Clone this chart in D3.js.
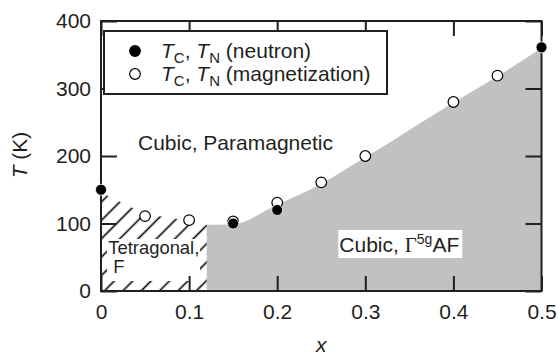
<!DOCTYPE html>
<html>
<head>
<meta charset="utf-8">
<script src="https://cdn.jsdelivr.net/npm/d3@7"></script>
<style>
  body { margin: 0; background: #fff; }
  text { font-family: "Liberation Sans", Arial, Helvetica, sans-serif; fill: #231f20; }
</style>
</head>
<body>
<svg id="chart" width="558" height="356"></svg>
<script>
// tick values
const xTicks = [0, 0.1, 0.2, 0.3, 0.4, 0.5];
const yTicks = [0, 100, 200, 300, 400];

// T_C, T_N from neutron diffraction (filled)
const neutronX = [0, 0.15, 0.2, 0.5];
const neutronT = [150, 100, 120, 361];

// T_C, T_N from magnetization (open)
const magX = [0.05, 0.1, 0.15, 0.2, 0.25, 0.3, 0.4, 0.45];
const magT = [111, 105, 103, 131, 161, 200, 280, 319];

// upper edge of the cubic AF phase (gray)
const afX = [0.12, 0.15, 0.2, 0.25, 0.3, 0.4, 0.45, 0.5];
const afT = [98, 99, 128, 159, 198, 279, 318, 360];

// upper edge of the tetragonal F phase (hatched)
const tetX = [0, 0.05, 0.1, 0.12];
const tetT = [146, 114, 104, 98];

const W = 558, H = 356;
const margin = {top: 21, right: 16.5, bottom: 65, left: 101};
const ink = "#231f20";
const fs = "21px";

const svg = d3.select("#chart");

const x = d3.scaleLinear().domain([0, 0.5]).range([margin.left, W - margin.right]);
const y = d3.scaleLinear().domain([0, 400]).range([H - margin.bottom, margin.top]);

// hatch pattern for the tetragonal region
const defs = svg.append("defs");
defs.append("pattern")
    .attr("id", "hatch")
    .attr("patternUnits", "userSpaceOnUse")
    .attr("width", 13).attr("height", 13)
    .attr("patternTransform", "rotate(45)")
  .append("line")
    .attr("x1", 6.5).attr("y1", 0).attr("x2", 6.5).attr("y2", 13)
    .attr("stroke", "#000").attr("stroke-width", 1.6);

// gray AF region
const afPts = afX.map((d, i) => [d, afT[i]]);
const afArea = d3.area()
    .x(d => x(d[0]))
    .y0(y(0))
    .y1(d => y(d[1]))
    .curve(d3.curveMonotoneX);
svg.append("path")
    .datum(afPts)
    .attr("d", afArea)
    .attr("fill", "#c1c1c1");

// hatched tetragonal region
const tetPts = tetX.map((d, i) => [d, tetT[i]]);
const tetArea = d3.area()
    .x(d => x(d[0]))
    .y0(y(0))
    .y1(d => y(d[1]));
svg.append("path")
    .datum(tetPts)
    .attr("d", tetArea)
    .attr("fill", "url(#hatch)");

// labels of the phases
const tetLabel = svg.append("g");
tetLabel.append("rect")
    .attr("x", x(0.0068)).attr("y", y(77))
    .attr("width", 93).attr("height", 42)
    .attr("fill", "#fff");
const tetText = tetLabel.append("text")
    .attr("x", x(0.0083)).attr("y", y(54.4))
    .style("font-size", "18.4px");
tetText.append("tspan").text("Tetragonal,");
tetText.append("tspan").attr("x", x(0.014)).attr("dy", 19).text("F");

svg.append("text")
    .attr("x", x(0.042)).attr("y", y(209))
    .style("font-size", fs)
    .text("Cubic, Paramagnetic");

const afLabel = svg.append("g");
afLabel.append("rect")
    .attr("x", x(0.2705) - 1).attr("y", y(90.4))
    .attr("width", 124).attr("height", 28)
    .attr("fill", "#fff");
const afText = afLabel.append("text")
    .attr("x", x(0.2705)).attr("y", y(58.5))
    .style("font-size", fs);
afText.append("tspan").text("Cubic, ");
afText.append("tspan").style("font-family", "'Liberation Serif', 'Times New Roman', serif").text("\u0393");
afText.append("tspan").attr("dy", -8).style("font-size", "14px").text("5g");
afText.append("tspan").attr("dy", 8).text("AF");

// frame
svg.append("rect")
    .attr("x", x(0)).attr("y", y(400))
    .attr("width", x(0.5) - x(0)).attr("height", y(0) - y(400))
    .attr("fill", "none").attr("stroke", ink).attr("stroke-width", 2);

// inward ticks on all four sides
const tl = 15;
const axB = svg.append("g").attr("transform", `translate(0,${y(0)})`)
    .call(d3.axisBottom(x).tickValues(xTicks).tickSize(-tl).tickPadding(13).tickFormat(d3.format("")));
const axT = svg.append("g").attr("transform", `translate(0,${y(400)})`)
    .call(d3.axisTop(x).tickValues(xTicks).tickSize(-tl).tickFormat(""));
const axL = svg.append("g").attr("transform", `translate(${x(0)},0)`)
    .call(d3.axisLeft(y).tickValues(yTicks).tickSize(-tl - 1).tickPadding(10).tickFormat(d3.format("d")));
const axR = svg.append("g").attr("transform", `translate(${x(0.5)},0)`)
    .call(d3.axisRight(y).tickValues(yTicks).tickSize(-tl - 1).tickFormat(""));
[axB, axT, axL, axR].forEach(a => {
  a.select(".domain").remove();
  a.selectAll(".tick line").attr("stroke", ink).attr("stroke-width", 2);
  a.selectAll(".tick text").attr("fill", ink)
      .style("font-size", fs)
      .style("font-family", "'Liberation Sans', Arial, sans-serif");
});

// axis titles
const yTitle = svg.append("text")
    .attr("transform", `translate(27,${(y(0) + y(400)) / 2 - 1}) rotate(-90)`)
    .attr("text-anchor", "middle")
    .style("font-size", fs);
yTitle.append("tspan").style("font-style", "italic").text("T");
yTitle.append("tspan").text(" (K)");

svg.append("text")
    .attr("x", (x(0) + x(0.5)) / 2).attr("y", 352)
    .attr("text-anchor", "middle")
    .style("font-size", fs).style("font-style", "italic")
    .text("x");

// legend
const lg = svg.append("g");
lg.append("rect")
    .attr("x", 104).attr("y", 31)
    .attr("width", 283).attr("height", 63)
    .attr("fill", "#fff").attr("stroke", ink).attr("stroke-width", 2);

function legendRow(yc, filled, label) {
  lg.append("circle")
      .attr("cx", 135).attr("cy", yc).attr("r", 5.3)
      .attr("fill", filled ? "#000" : "#fff")
      .attr("stroke", "#000").attr("stroke-width", 1.2);
  const t = lg.append("text").attr("x", 161).attr("y", yc + 7).style("font-size", fs);
  t.append("tspan").style("font-style", "italic").text("T");
  t.append("tspan").attr("dy", 5).style("font-size", "15px").text("C");
  t.append("tspan").attr("dy", -5).text(", ");
  t.append("tspan").style("font-style", "italic").text("T");
  t.append("tspan").attr("dy", 5).style("font-size", "15px").text("N");
  t.append("tspan").attr("dy", -5).text(" " + label);
}
legendRow(51, true, "(neutron)");
legendRow(74, false, "(magnetization)");

// data points: open first, filled on top
svg.append("g").selectAll("circle")
  .data(magX.map((d, i) => [d, magT[i]]))
  .join("circle")
    .attr("cx", d => x(d[0])).attr("cy", d => y(d[1]))
    .attr("r", 5.3)
    .attr("fill", "#fff").attr("stroke", "#000").attr("stroke-width", 1.2);

svg.append("g").selectAll("circle")
  .data(neutronX.map((d, i) => [d, neutronT[i]]))
  .join("circle")
    .attr("cx", d => x(d[0])).attr("cy", d => y(d[1]))
    .attr("r", 5.5)
    .attr("fill", "#000").attr("stroke", "#fff").attr("stroke-width", 0.8);
</script>
</body>
</html>
